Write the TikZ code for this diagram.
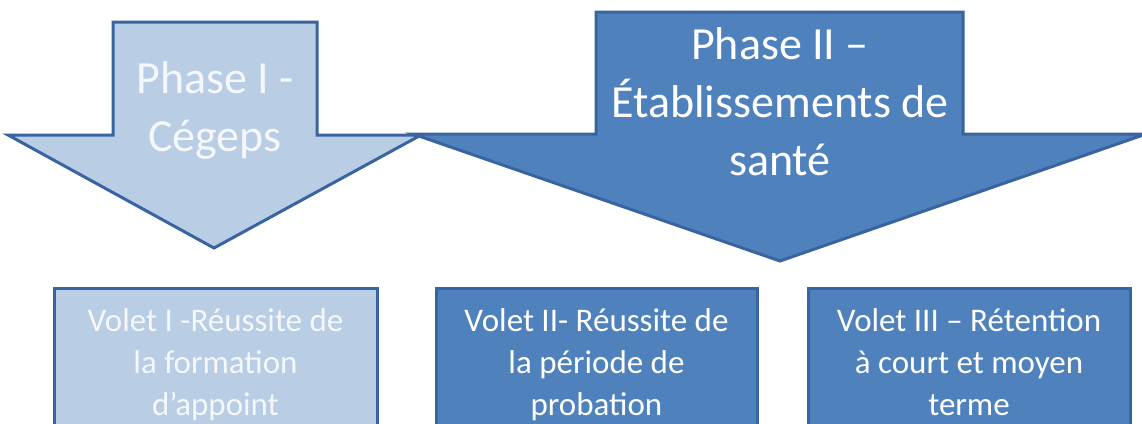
\documentclass[tikz,border=0pt]{standalone}
\usepackage{fontspec}
\setmainfont{Carlito}
\definecolor{paleblue}{HTML}{B9CDE5}
\definecolor{midblue}{HTML}{4F81BD}
\definecolor{edgeblue}{HTML}{3A64A0}
\definecolor{paletext}{HTML}{F4F7FB}
\begin{document}
\begin{tikzpicture}[x=1pt,y=-1pt,
  arrowshape/.style={draw=edgeblue,line width=3pt,line join=miter},
  phasetext/.style={inner sep=0pt,align=center,font=\fontsize{46}{58}\selectfont},
  voletbox/.style={draw=edgeblue,line width=3pt},
  volettext/.style={inner sep=0pt,align=center,font=\fontsize{33}{42}\selectfont}]
\useasboundingbox (0,0) rectangle (1142,423);
\clip (0,0) rectangle (1142,423);

% Phase I arrow (drawn first, partly covered by Phase II)
\path[arrowshape,fill=paleblue]
  (113,22) -- (317,22) -- (317,135) -- (421,135) -- (214,248)
  -- (8,135) -- (113,135) -- cycle;
\node[phasetext,text=paletext] (phaseone) at (215,110) {Phase I -\\Cégeps};

% Phase II arrow
\path[arrowshape,fill=midblue]
  (596,12) -- (963,12) -- (963,134) -- (1146,134) -- (780,261)
  -- (413,134) -- (596,134) -- cycle;
\node[phasetext,text=white] (phasetwo) at (780,102)
  {Phase II –\\Établissements de\\santé};

% Volet boxes
\path[voletbox,fill=paleblue] (54,288) rectangle (377,440);
\path[voletbox,fill=midblue] (436,288) rectangle (757,440);
\path[voletbox,fill=midblue] (808,288) rectangle (1130,440);

\node[volettext,text=paletext] (voletone) at (215.5,365)
  {Volet I -Réussite de\\la formation\\d’appoint};
\node[volettext,text=white] (volettwo) at (596.5,365)
  {Volet II- Réussite de\\la période de\\probation};
\node[volettext,text=white] (voletthree) at (969,362)
  {Volet III – Rétention\\à court et moyen\\terme};
\end{tikzpicture}
\end{document}
